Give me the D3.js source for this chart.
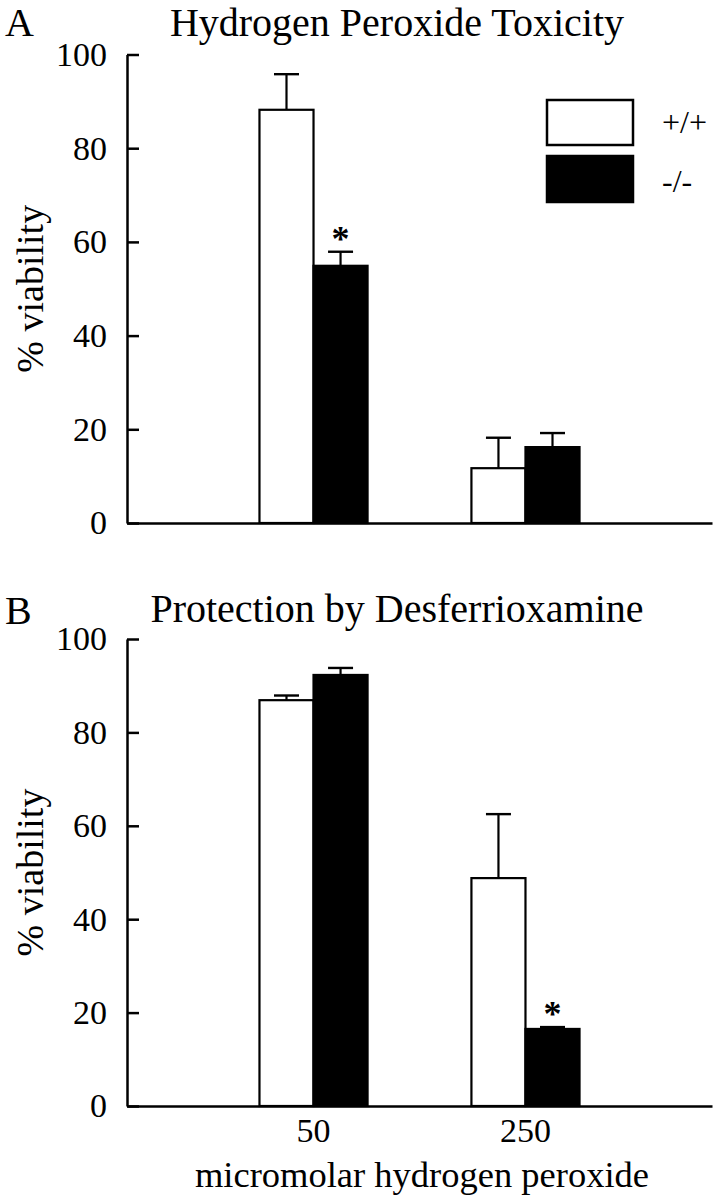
<!DOCTYPE html>
<html><head><meta charset="utf-8">
<script src="https://cdn.jsdelivr.net/npm/d3@7"></script>
<style>
body{margin:0;background:#fff}
svg{display:block;background:#fff}
text{font-family:"Liberation Serif","Times New Roman",serif;fill:#000}
</style>
</head><body>
<svg id="chart" width="718" height="1199"></svg>
<script>
// ---- data ----
const categories = ["50", "250"];
const genotypes = ["+/+", "-/-"];
const yTicks = [0, 20, 40, 60, 80, 100];
const panelLetters = ["A", "B"];
const panelTitles = ["Hydrogen Peroxide Toxicity", "Protection by Desferrioxamine"];
const yAxisTitle = "% viability";
const xAxisTitle = "micromolar hydrogen peroxide";

// Panel A: viability (%) and SEM
const aWildType = [88.2, 11.7];
const aWildTypeErr = [7.6, 6.5];
const aKnockout = [54.9, 16.2];
const aKnockoutErr = [3.0, 3.0];
const aWildTypeSig = [false, false];
const aKnockoutSig = [true, false];

// Panel B
const bWildType = [86.9, 48.8];
const bWildTypeErr = [1.0, 13.7];
const bKnockout = [92.3, 16.5];
const bKnockoutErr = [1.5, 0.4];
const bWildTypeSig = [false, false];
const bKnockoutSig = [false, true];

// ---- layout ----
const svg = d3.select("#chart");
const axisX0 = 127, axisX1 = 712;
const panels = [
  {letter: panelLetters[0], title: panelTitles[0], yRange: [523, 54.5], titleY: 36, letterY: 36,
   series: [[aWildType, aWildTypeErr, aWildTypeSig], [aKnockout, aKnockoutErr, aKnockoutSig]], showX: false},
  {letter: panelLetters[1], title: panelTitles[1], yRange: [1106, 639], titleY: 622, letterY: 624,
   series: [[bWildType, bWildTypeErr, bWildTypeSig], [bKnockout, bKnockoutErr, bKnockoutSig]], showX: true}
];
const fills = ["#fff", "#000"];

const x = d3.scaleBand().domain(categories).range([axisX0, axisX1]).paddingInner(0.49).paddingOuter(0.625);
const xs = d3.scaleBand().domain(genotypes).range([0, x.bandwidth()]);

panels.forEach(p => {
  const g = svg.append("g");
  const y = d3.scaleLinear().domain([0, 100]).range(p.yRange);

  // letter + title
  g.append("text").attr("x", 5).attr("y", p.letterY).attr("font-size", 40).text(p.letter);
  g.append("text").attr("x", 397).attr("y", p.titleY).attr("text-anchor", "middle").attr("font-size", 40).text(p.title);

  // y axis
  const ya = g.append("g").attr("transform", `translate(${axisX0},0)`)
    .call(d3.axisLeft(y).tickValues(yTicks).tickFormat(d3.format("d")).tickSize(-12).tickSizeOuter(0).tickPadding(20));
  ya.attr("font-family", null);
  ya.selectAll("path,line").attr("stroke", "#000").attr("stroke-width", 2.5);
  ya.selectAll("text").attr("font-size", 34);

  // y title
  g.append("text")
    .attr("transform", `translate(30,${(p.yRange[0] + p.yRange[1]) / 2}) rotate(-90)`)
    .attr("text-anchor", "middle").attr("dominant-baseline", "central")
    .attr("font-size", 38).text(yAxisTitle);

  // bars
  p.series.forEach((s, si) => {
    const [vals, errs, sig] = s;
    const gen = genotypes[si];
    categories.forEach((c, ci) => {
      const bx = x(c) + xs(gen);
      const bw = xs.bandwidth();
      const cx = bx + bw / 2;
      const v = vals[ci], e = errs[ci];
      // error bar (upper only)
      g.append("line").attr("x1", cx).attr("x2", cx).attr("y1", y(v)).attr("y2", y(v + e))
        .attr("stroke", "#000").attr("stroke-width", 2.2);
      g.append("line").attr("x1", cx - 12.5).attr("x2", cx + 12.5).attr("y1", y(v + e)).attr("y2", y(v + e))
        .attr("stroke", "#000").attr("stroke-width", 2.4);
      g.append("rect").attr("x", bx).attr("y", y(v)).attr("width", bw).attr("height", y(0) - y(v))
        .attr("fill", fills[si]).attr("stroke", "#000").attr("stroke-width", 2.2);
      if (sig[ci]) {
        g.append("text").attr("x", cx).attr("y", y(v + e) - 1).attr("text-anchor", "middle")
          .attr("font-size", 36).attr("font-weight", "bold").text("*");
      }
    });
  });

  // x axis
  const xa = g.append("g").attr("transform", `translate(0,${y(0)})`)
    .call(d3.axisBottom(x).tickSize(0).tickSizeOuter(0).tickPadding(12).tickFormat(p.showX ? (d => d) : () => ""));
  xa.attr("font-family", null);
  xa.selectAll("path").attr("stroke", "#000").attr("stroke-width", 2.6);
  xa.selectAll("text").attr("font-size", 34);
});

// x title
svg.append("text").attr("x", 422).attr("y", 1187).attr("text-anchor", "middle")
  .attr("font-size", 36.5).text(xAxisTitle);

// legend (panel A)
const legend = svg.append("g");
genotypes.forEach((gname, i) => {
  legend.append("rect").attr("x", 547).attr("y", [100, 156][i]).attr("width", 86).attr("height", [45, 46][i])
    .attr("fill", fills[i]).attr("stroke", "#000").attr("stroke-width", 2.5);
  legend.append("text").attr("x", 662).attr("y", [133, 192][i]).attr("font-size", 32).text(gname);
});
</script>
</body></html>
